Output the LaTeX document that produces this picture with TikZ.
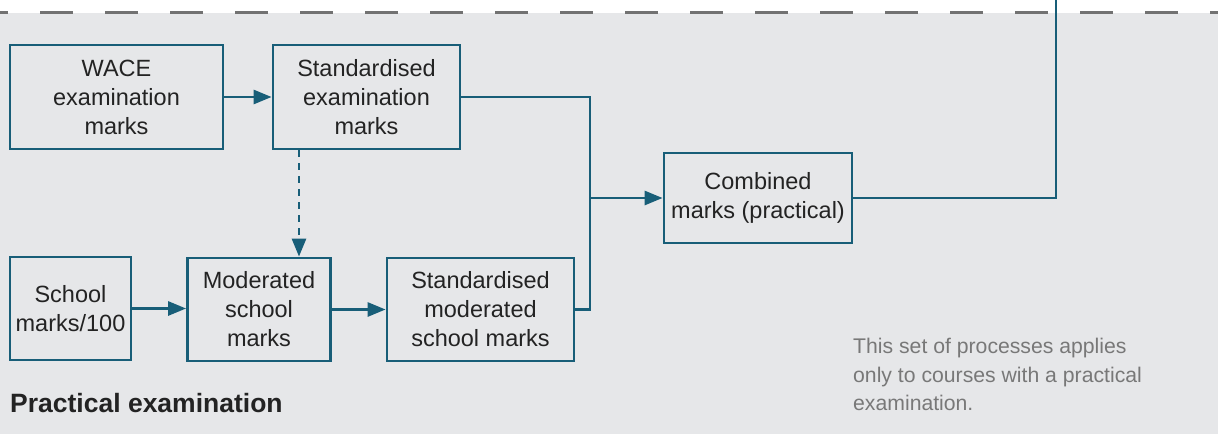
\documentclass[tikz,border=0pt]{standalone}
\usepackage{fontspec}
\setmainfont{Liberation Sans}
\usetikzlibrary{arrows.meta}
\definecolor{teal}{RGB}{24,94,120}
\definecolor{panel}{RGB}{230,231,233}
\definecolor{ink}{RGB}{35,35,35}
\definecolor{note}{RGB}{120,120,120}
\tikzset{
  mbox/.style={draw=teal, line width=2.8pt, inner sep=0pt, align=center, text=ink,
    font=\fontsize{23.5}{29}\selectfont},
  flow/.style={draw=teal, line width=2.8pt, -{Triangle[length=18pt,width=14pt]}},
  link/.style={draw=teal, line width=2.8pt},
}
\begin{document}
\begin{tikzpicture}[x=1pt,y=-1pt]
\useasboundingbox (0,0) rectangle (1218,434);
\fill[panel] (0,13) rectangle (1218,434);
\draw[note!95!black, line width=2.8pt, dash pattern=on 33pt off 32pt, dash phase=25pt] (0,12.5) -- (1218,12.5);
% top row
\node[mbox, minimum width=213pt, minimum height=104pt] (wace) at (116.5,97) {WACE\\examination\\marks};
\node[mbox, minimum width=187pt, minimum height=104pt] (stdexam) at (366.5,97) {Standardised\\examination\\marks};
% bottom row
\node[mbox, minimum width=121pt, minimum height=103pt] (school) at (70.5,308.5) {School\\marks/100};
\node[mbox, minimum width=143pt, minimum height=103pt] (modsch) at (259,309.5) {Moderated\\school\\marks};
\node[mbox, minimum width=187pt, minimum height=103pt] (stdmod) at (480.5,309.5) {Standardised\\moderated\\school marks};
% result
\node[mbox, minimum width=188pt, minimum height=90pt] (combined) at (758,198) {Combined\\marks (practical)};
\coordinate (join) at (590,198);
\coordinate (up) at (1056,0);
\draw[flow] (wace) -- (stdexam);
\draw[flow] (school.east) -- (modsch.west |- school.east);
\draw[flow] (modsch) -- (stdmod);
\draw[flow, dash pattern=on 7pt off 6pt] (stdexam.south -| 299,0) -- (modsch.north -| 299,0);
\draw[link] (stdexam.east) -| (join);
\draw[link] (stdmod.east) -| (join);
\draw[flow] (join) -- (combined.west);
\draw[link] (combined.east) -| (up);
% labels
\node[anchor=base west, inner sep=0pt, text=ink, font=\bfseries\fontsize{26.5}{30}\selectfont] (title) at (10,412) {Practical examination};
\node[anchor=north west, inner sep=0pt, align=left, text=note, font=\fontsize{21.2}{28.5}\selectfont] (remark) at (853,338) {This set of processes applies\\only to courses with a practical\\examination.};
\end{tikzpicture}
\end{document}
